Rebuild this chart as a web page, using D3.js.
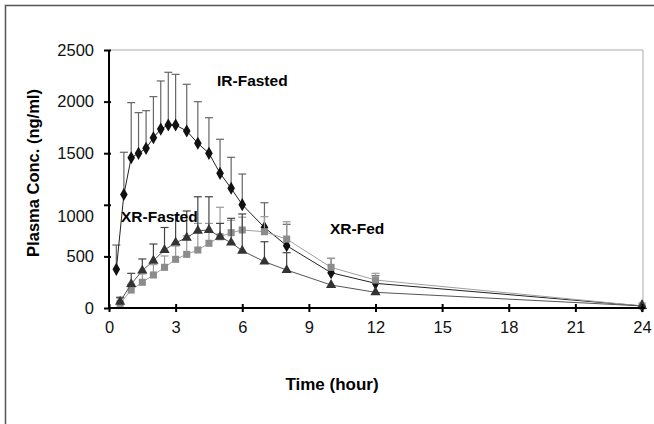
<!DOCTYPE html>
<html>
<head>
<meta charset="utf-8">
<script src="https://cdn.jsdelivr.net/npm/d3@7"></script>
<style>
  body { margin: 0; background: #fff; }
  text { font-family: Arial, "Liberation Sans", sans-serif; }
</style>
</head>
<body>
<div id="main"></div>
<script>
var width = 654;
var height = 424;

// IR-Fasted (diamonds)
var irTime = [0.33, 0.67, 1, 1.33, 1.67, 2, 2.33, 2.67, 3, 3.5, 4, 4.5, 5, 5.5, 6, 7, 8, 10, 12, 24];
var irMean = [375, 1100, 1456, 1499, 1547, 1650, 1734, 1773, 1773, 1715, 1596, 1499, 1305, 1160, 1001, 780, 604, 342, 239, 20];
var irUpper = [610, 1509, 1990, 1893, 1912, 2048, 2200, 2284, 2264, 2168, 1999, 1844, 1635, 1460, 1298, 1020, 811, 481, 313, null];

// XR-Fasted (triangles) and XR-Fed (squares)
var xrTime = [0.5, 1, 1.5, 2, 2.5, 3, 3.5, 4, 4.5, 5, 5.5, 6, 7, 8, 10, 12, 24];
var xrFastMean = [61, 232, 362, 458, 562, 633, 681, 749, 756, 690, 633, 555, 449, 368, 223, 152, 20];
var xrFastUpper = [104, 336, 475, 620, 780, 900, 940, 1078, 1078, 820, 869, 911, 642, 536, null, null, null];
var xrFedMean = [45, 174, 249, 320, 394, 472, 520, 562, 627, 690, 730, 756, 739, 668, 394, 271, 20];
var xrFedUpper = [95, 230, 330, 420, 504, 600, 700, 820, 820, 976, 850, 880, 885, 836, 481, 336, null];

var xTicks = [0, 3, 6, 9, 12, 15, 18, 21, 24];
var yTicks = [0, 500, 1000, 1500, 2000, 2500];

var x = d3.scaleLinear().domain([0, 24]).range([109, 642]);
var y = d3.scaleLinear().domain([0, 2500]).range([308, 50]);

function init(){
  var svg = d3.select("#main")
    .append("svg")
    .attr("width", width)
    .attr("height", height);

  // outer frame
  svg.append("path")
    .attr("d", "M5.5," + height + "V5.5H" + width)
    .attr("fill", "none")
    .attr("stroke", "#555")
    .attr("stroke-width", 1.5);

  // plot area top / right border
  svg.append("path")
    .attr("d", "M" + x(0) + "," + y(2500) + "H" + (x(24) + 1) + "V" + y(0))
    .attr("fill", "none")
    .attr("stroke", "#aaa")
    .attr("stroke-width", 1);

  var series = [
    {t: irTime, m: irMean, u: irUpper, shape: d3.symbolDiamond, size: 50, fill: "#111", line: "#222", bar: "#666"},
    {t: xrTime, m: xrFedMean, u: xrFedUpper, shape: d3.symbolSquare, size: 50, fill: "#8c8c8c", line: "#a0a0a0", bar: "#9a9a9a"},
    {t: xrTime, m: xrFastMean, u: xrFastUpper, shape: d3.symbolTriangle, size: 45, fill: "#333", line: "#555", bar: "#444"}
  ];

  var line = d3.line()
    .x(function(d){ return x(d[0]); })
    .y(function(d){ return y(d[1]); });

  series.forEach(function(s){
    var pts = s.t.map(function(t, i){ return [t, s.m[i], s.u[i]]; });
    var g = svg.append("g");

    // error bars (upper only)
    var bars = g.selectAll(".err")
      .data(pts.filter(function(p){ return p[2] != null; }))
      .enter().append("g");
    bars.append("line")
      .attr("x1", function(d){ return x(d[0]); })
      .attr("x2", function(d){ return x(d[0]); })
      .attr("y1", function(d){ return y(d[1]); })
      .attr("y2", function(d){ return y(d[2]); })
      .attr("stroke", s.bar).attr("stroke-width", 1.2);
    bars.append("line")
      .attr("x1", function(d){ return x(d[0]) - 4; })
      .attr("x2", function(d){ return x(d[0]) + 4; })
      .attr("y1", function(d){ return y(d[2]); })
      .attr("y2", function(d){ return y(d[2]); })
      .attr("stroke", s.bar).attr("stroke-width", 1.2);

    g.append("path")
      .datum(pts)
      .attr("d", line)
      .attr("fill", "none")
      .attr("stroke", s.line)
      .attr("stroke-width", 1);

    g.selectAll(".pt")
      .data(pts)
      .enter().append("path")
      .attr("d", d3.symbol().type(s.shape).size(s.size))
      .attr("transform", function(d){ return "translate(" + x(d[0]) + "," + y(d[1]) + ")"; })
      .attr("fill", s.fill);
  });

  // axes
  var xAxis = svg.append("g")
    .attr("transform", "translate(0," + y(0) + ")")
    .call(d3.axisBottom(x).tickValues(xTicks).tickFormat(d3.format("d")).tickSize(4).tickPadding(9));
  xAxis.select(".domain").attr("stroke", "#000").attr("stroke-width", 2)
    .attr("d", "M" + x(0) + ",0H" + (x(24) + 3));
  xAxis.selectAll(".tick line").attr("y1", -4).attr("y2", 4).attr("stroke-width", 2);
  xAxis.selectAll(".tick text").attr("font-size", 16.5).attr("fill", "#111");

  var yAxis = svg.append("g")
    .attr("transform", "translate(" + x(0) + ",0)")
    .call(d3.axisLeft(y).tickValues(yTicks).tickFormat(d3.format("d")).tickSize(4).tickPadding(11));
  yAxis.select(".domain").attr("stroke", "#000").attr("stroke-width", 2)
    .attr("d", "M0," + y(0) + "V" + y(2500));
  yAxis.selectAll(".tick line").attr("x1", -5).attr("x2", 2).attr("stroke-width", 2);
  yAxis.selectAll(".tick text").attr("font-size", 16.5).attr("fill", "#111")
    .attr("dy", function(d){ return d == 1000 ? "1.0em" : "0.32em"; });

  // titles
  svg.append("text")
    .attr("transform", "translate(39,173) rotate(-90)")
    .attr("text-anchor", "middle")
    .attr("font-size", 16.5).attr("font-weight", "bold")
    .text("Plasma Conc. (ng/ml)");
  svg.append("text")
    .attr("x", 332).attr("y", 390)
    .attr("text-anchor", "middle")
    .attr("font-size", 17).attr("font-weight", "bold")
    .text("Time (hour)");

  // series labels
  var labels = [["IR-Fasted", 217, 86], ["XR-Fasted", 121, 222], ["XR-Fed", 330, 234]];
  svg.selectAll(".lbl")
    .data(labels)
    .enter().append("text")
    .attr("x", function(d){ return d[1]; })
    .attr("y", function(d){ return d[2]; })
    .attr("font-size", 15.5).attr("font-weight", "bold")
    .text(function(d){ return d[0]; });
}
init();
</script>
</body>
</html>
